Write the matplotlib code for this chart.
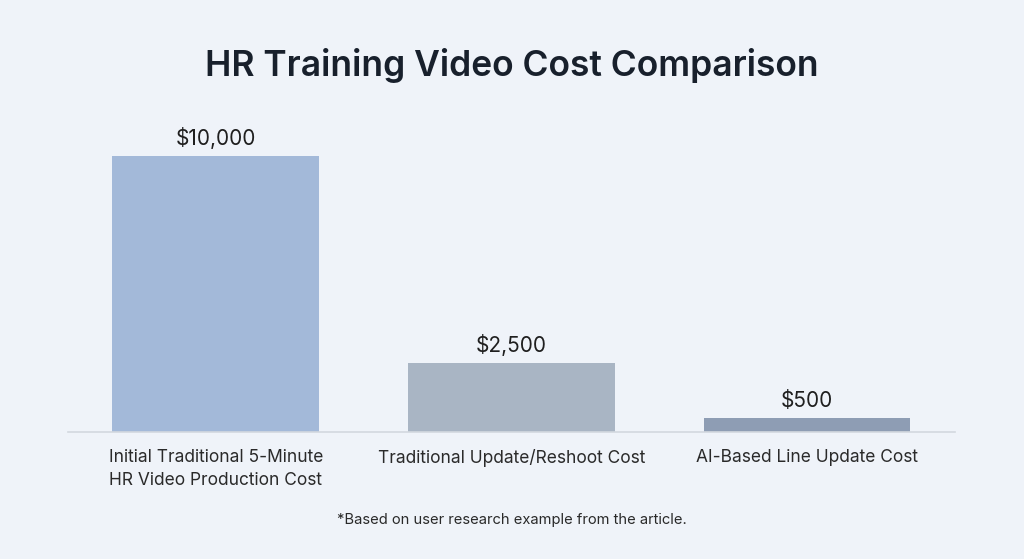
import matplotlib.pyplot as plt

# Datos del gráfico
categories = ['Initial Traditional 5-Minute\nHR Video Production Cost',
              'Traditional Update/Reshoot Cost',
              'AI-Based Line Update Cost']
costs = [10000, 2500, 500]
value_labels = ['$10,000', '$2,500', '$500']
bar_colors = ['#a3b9d9', '#a9b5c4', '#8e9db4']

plt.rcParams['font.family'] = ['Inter', 'DejaVu Sans']

bg = '#eff3f9'
fig = plt.figure(figsize=(10.24, 5.59), dpi=100, facecolor=bg)
ax = fig.add_axes([0.0664, 0.2272, 0.866, 0.543], facecolor=bg)

x = range(len(categories))
bars = ax.bar(x, costs, width=0.7, color=bar_colors, zorder=2)

# Etiquetas de valor encima de cada barra
for b, lab in zip(bars, value_labels):
    ax.annotate(lab, (b.get_x() + b.get_width() / 2, b.get_height()),
                xytext=(0, 5), textcoords='offset points',
                ha='center', va='bottom', fontsize=15, color='#1f1f1f')

ax.set_xlim(-0.5, 2.5)
ax.set_ylim(0, 11000)
ax.set_xticks(list(x))
ax.set_xticklabels(categories, fontsize=12.5, color='#2a2a2a', linespacing=1.45)
ax.tick_params(axis='x', length=0, pad=12)
ax.set_yticks([])

for s in ['top', 'right', 'left']:
    ax.spines[s].set_visible(False)
ax.spines['bottom'].set_color('#d3d8df')
ax.spines['bottom'].set_linewidth(1.2)

fig.text(0.5, 0.883, 'HR Training Video Cost Comparison', ha='center', va='center',
         fontsize=25.5, fontweight='semibold', color='#18202c')
fig.text(0.5, 0.070, '*Based on user research example from the article.', ha='center',
         va='center', fontsize=10.6, color='#2a2a2a')

fig.savefig('out.png', dpi=100, facecolor=bg)
